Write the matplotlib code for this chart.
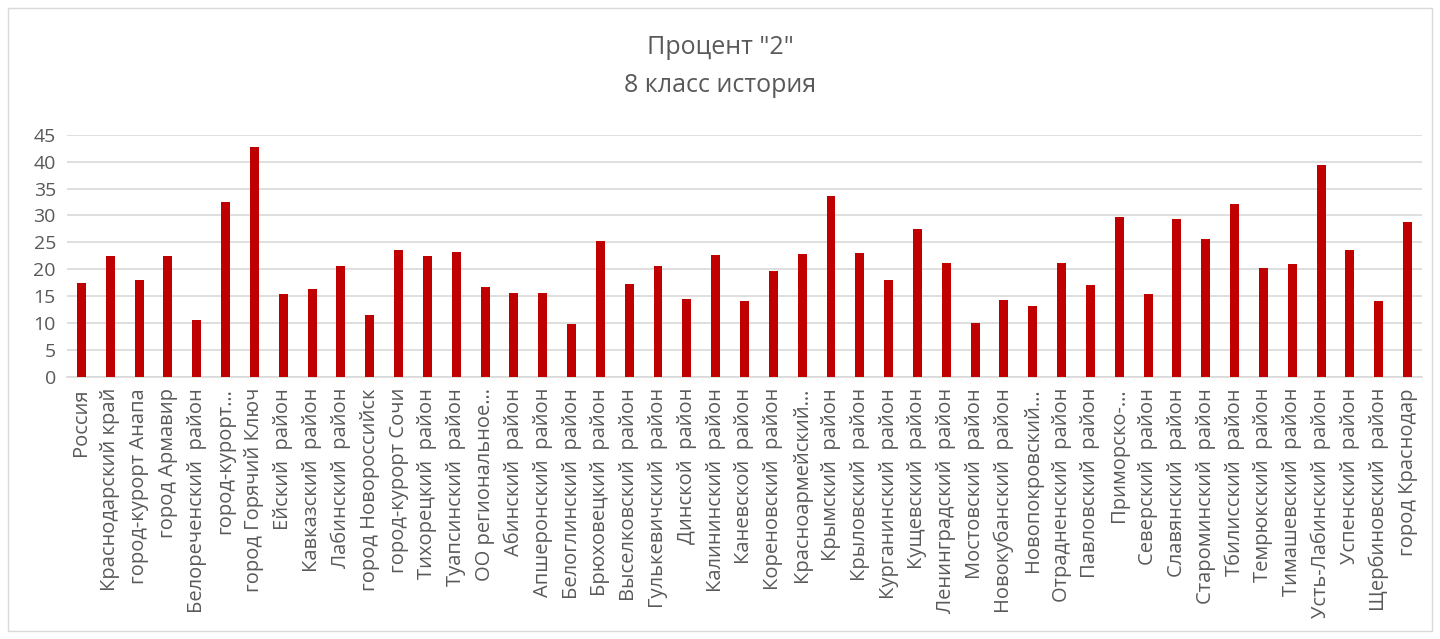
import matplotlib
matplotlib.use('Agg')
import matplotlib.pyplot as plt
from matplotlib.patches import Rectangle
import numpy as np

plt.rcParams['font.family'] = ['Open Sans', 'DejaVu Sans']

# ==================== данные ====================
regions = [
    'Россия', 'Краснодарский край', 'город-курорт Анапа', 'город Армавир',
    'Белореченский  район', 'город-курорт…', 'город Горячий Ключ',
    'Ейский  район', 'Кавказский  район', 'Лабинский  район',
    'город Новороссийск', 'город-курорт Сочи', 'Тихорецкий  район',
    'Туапсинский  район', 'ОО региональное…', 'Абинский  район',
    'Апшеронский  район', 'Белоглинский  район', 'Брюховецкий  район',
    'Выселковский  район', 'Гулькевичский  район', 'Динской  район',
    'Калининский  район', 'Каневской  район', 'Кореновский  район',
    'Красноармейский…', 'Крымский  район', 'Крыловский  район',
    'Курганинский  район', 'Кущевский  район', 'Ленинградский  район',
    'Мостовский  район', 'Новокубанский  район', 'Новопокровский…',
    'Отрадненский  район', 'Павловский  район', 'Приморско-…',
    'Северский  район', 'Славянский  район', 'Староминский  район',
    'Тбилисский  район', 'Темрюкский  район', 'Тимашевский  район',
    'Усть-Лабинский  район', 'Успенский  район', 'Щербиновский  район',
    'город Краснодар',
]
percent_2 = [
    17.5, 22.5, 18.1, 22.5, 10.6, 32.5, 42.65, 15.4, 16.3, 20.55,
    11.6, 23.5, 22.5, 23.3, 16.8, 15.6, 15.55, 9.9, 25.25, 17.3,
    20.7, 14.55, 22.65, 14.2, 19.6, 22.8, 33.7, 23.0, 17.95, 27.5,
    21.2, 10.1, 14.35, 13.1, 21.2, 17.1, 29.8, 15.4, 29.3, 25.7,
    32.1, 20.2, 21.0, 39.4, 23.6, 14.1, 28.8,
]
yticks = [0, 5, 10, 15, 20, 25, 30, 35, 40, 45]
title_lines = ['Процент "2"', '8 класс история']

# ==================== рисунок ====================
fig = plt.figure(figsize=(14.4, 6.39), dpi=100)
ax = fig.add_axes([67 / 1440, 1 - 377 / 639, (1422 - 67) / 1440, (377 - 134.7) / 639])

x = np.arange(len(regions))
ax.bar(x, percent_2, width=0.31, color='#c00000', zorder=3)

ax.set_xlim(-0.5, len(regions) - 0.5)
ax.set_ylim(0, 45)
ax.set_yticks(yticks)
ax.set_xticks(x)
ax.set_xticklabels(regions, rotation=90, fontsize=14.5, color='#595959')
ax.tick_params(axis='y', labelsize=14, labelcolor='#595959', length=0, pad=8)
ax.tick_params(axis='x', length=0, pad=8)
ax.yaxis.grid(True, color='#d9d9d9', linewidth=1.2, zorder=0)
for s in ['top', 'right', 'left']:
    ax.spines[s].set_visible(False)
ax.spines['bottom'].set_color('#d9d9d9')
ax.spines['bottom'].set_linewidth(1.2)

fig.text(0.5, 1 - 48 / 639, title_lines[0], ha='center', va='center',
         fontsize=18, color='#595959')
fig.text(0.5, 1 - 85 / 639, title_lines[1], ha='center', va='center',
         fontsize=18, color='#595959')

# рамка области диаграммы
fig.patches.append(Rectangle((8 / 1440, 8 / 639), 1 - 16 / 1440, 1 - 16 / 639,
                             transform=fig.transFigure, fill=False,
                             edgecolor='#d9d9d9', linewidth=1))

fig.savefig('out.png', dpi=100, facecolor='white')
